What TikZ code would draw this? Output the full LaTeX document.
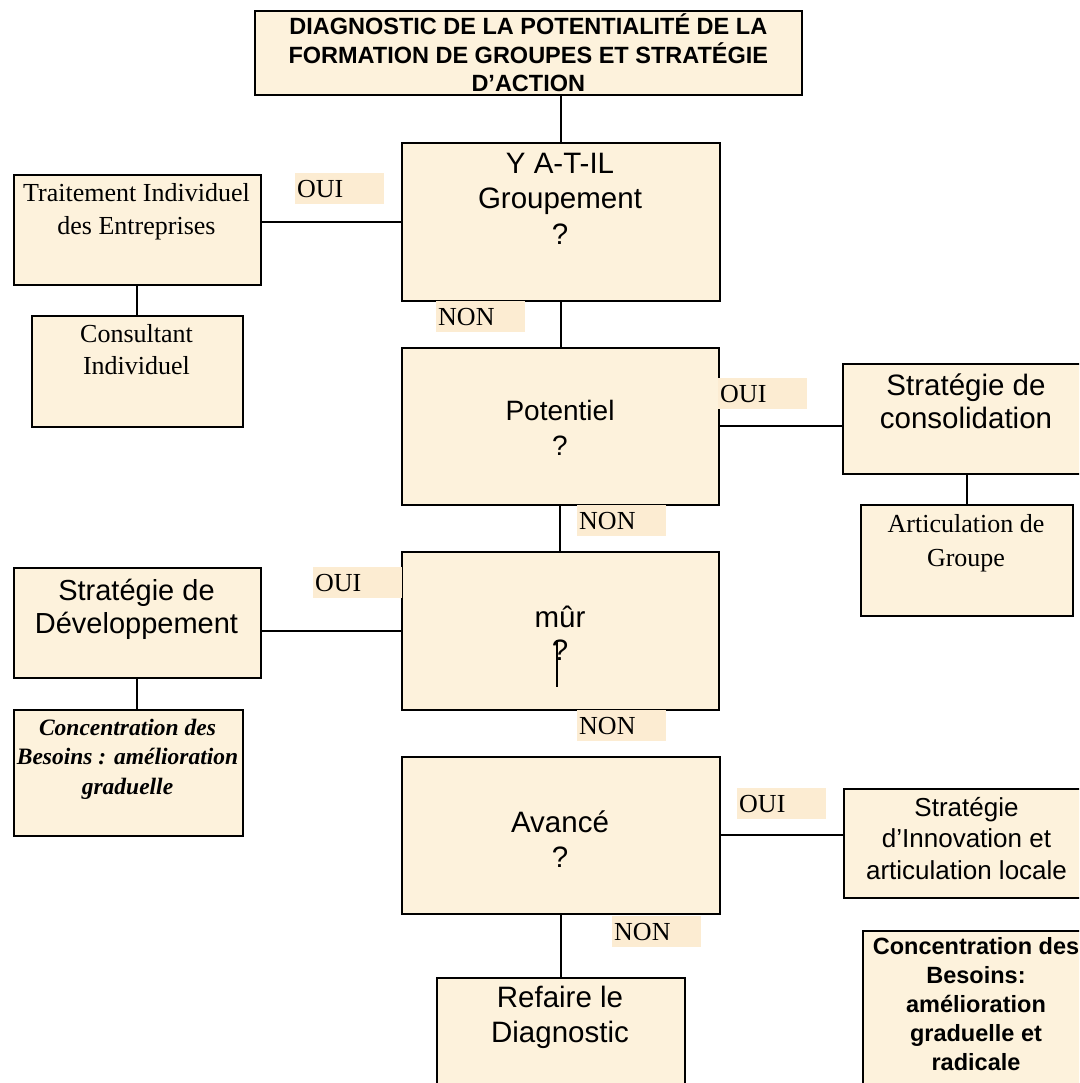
\documentclass[tikz,border=0pt]{standalone}
\usepackage{fontspec}
\setmainfont{Liberation Serif}
\setsansfont{Liberation Sans}
\definecolor{parch}{RGB}{253,242,220}
\definecolor{tagc}{RGB}{252,236,210}
\begin{document}
\begin{tikzpicture}[x=1pt,y=-1pt,
  box/.style={draw,fill=parch,line width=1.6pt,anchor=north west,inner sep=0pt},
  wire/.style={line width=1.8pt},
  rmt/.style={font=\fontsize{26}{33}\selectfont,align=center,inner sep=0pt},
  sft/.style={font=\sffamily\fontsize{29.5}{35}\selectfont,align=center,inner sep=0pt},
  tag/.style={fill=tagc,anchor=north west,minimum height=31pt,text width=85pt,inner xsep=2pt,inner ysep=0pt,align=left,font=\fontsize{26}{30}\selectfont}]
\useasboundingbox (0,0) rectangle (1079,1083);
\fill[white] (0,0) rectangle (1079,1083);
\clip (0,0) rectangle (1079,1083);
\foreach \n/\x/\y/\w/\h in {title/254/10/547/84,yatil/401/142/318/158,trait/13/174/247/110,consult/31/315/211/111,pot/401/347/317/157,consol/842/363/248/110,artic/860/504/212/111,mur/401/551/317/158,dev/13/567/247/110,concA/13/709/229/126,avance/401/756/318/157,innov/843/788/247/109,concB/862/930/228/170,refaire/436/977/248/120}
  \node[box,minimum width=\w pt,minimum height=\h pt] (\n) at (\x,\y) {};
\node[sft,font=\sffamily\bfseries\fontsize{23.5}{28.5}\selectfont] (titlet) at (title.center) {DIAGNOSTIC DE LA POTENTIALITÉ DE LA\\FORMATION DE GROUPES ET STRATÉGIE\\D’ACTION};
\node[sft,font=\sffamily\fontsize{29.5}{35.5}\selectfont] (yatilt) at (560,198.5) {Y A-T-IL\\Groupement\\?};
\node[rmt] (traitt) at (136.5,211.5) {Traitement Individuel\\des Entreprises};
\node[rmt,font=\fontsize{26}{32}\selectfont] (consultt) at (136.5,350) {Consultant\\Individuel};
\node[sft,font=\sffamily\fontsize{28}{35}\selectfont] (pott) at (560,427.5) {Potentiel\\?};
\node[sft,font=\sffamily\fontsize{29.5}{33}\selectfont] (consolt) at (966,401.5) {Stratégie de\\consolidation};
\node[rmt,font=\fontsize{26}{34}\selectfont] (artict) at (966,543) {Articulation de\\Groupe};
\node[sft,font=\sffamily\fontsize{29.5}{33}\selectfont] (murt) at (560,633.5) {mûr\\?};
\draw[line width=1.2pt] (557,640) -- (557,687);
\node[sft,font=\sffamily\fontsize{29}{33}\selectfont] (devt) at (136.5,609) {Stratégie de\\Développement};
\node[rmt,font=\bfseries\itshape\fontsize{23.5}{29.5}\selectfont] (concAt) at (127.5,759) {Concentration des\\Besoins : amélioration\\graduelle};
\node[sft] (avancet) at (560,839.5) {Avancé\\?};
\node[sft,font=\sffamily\fontsize{26}{31.5}\selectfont] (innovt) at (966.5,838.5) {Stratégie\\d’Innovation et\\articulation locale};
\node[sft,font=\sffamily\bfseries\fontsize{23.5}{29}\selectfont] (concBt) at (976,1004.5) {Concentration des\\Besoins:\\amélioration\\graduelle et\\radicale};
\node[sft] (refairet) at (560,1017) {Refaire le\\Diagnostic};
\draw[wire] (yatil.north) -- (yatil.north |- title.south);
\draw[wire] (yatil.west) -- (yatil.west -| trait.east);
\draw[wire] (trait.south) -- (consult.north);
\draw[wire] (yatil.south) -- (yatil.south |- pot.north);
\draw[wire] (pot.east) -- (pot.east -| consol.west);
\draw[wire] (artic.north) -- (artic.north |- consol.south);
\draw[wire] (pot.south) -- (pot.south |- mur.north);
\draw[wire] (mur.west) -- (mur.west -| dev.east);
\draw[wire] (dev.south) -- (dev.south |- concA.north);
\draw[wire] (avance.east) -- (avance.east -| innov.west);
\draw[wire] (avance.south) -- (avance.south |- refaire.north);
\foreach \n/\x/\y/\t in {ouiA/295/173/OUI,nonA/436/301/NON,ouiB/718/378/OUI,nonB/577/505/NON,ouiC/313/567/OUI,nonC/577/710/NON,ouiD/737/788/OUI,nonD/612/916/NON}
  \node[tag] (\n) at (\x,\y) {\t};
\end{tikzpicture}
\end{document}
